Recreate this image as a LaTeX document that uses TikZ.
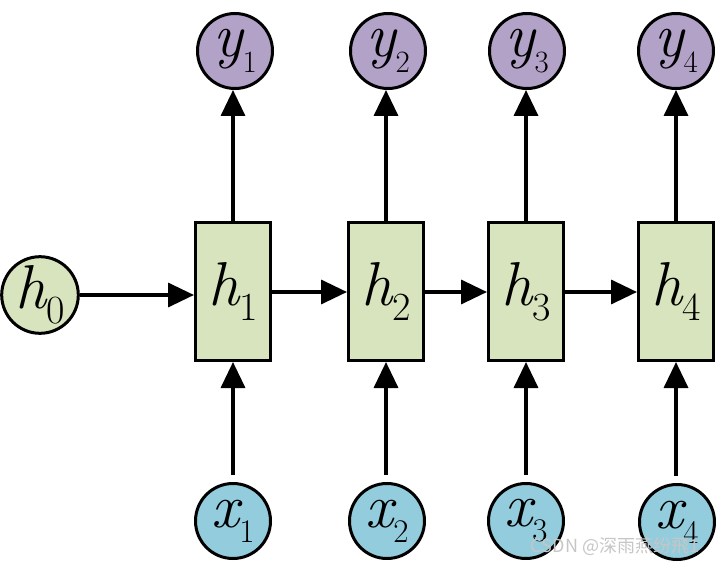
\documentclass[tikz,border=0pt]{standalone}
\usepackage{fontspec}
\newfontfamily\cjk{Noto Sans CJK SC}
\usetikzlibrary{arrows.meta}
\definecolor{hgreen}{HTML}{D7E4BD}
\definecolor{ypurple}{HTML}{B3A2C7}
\definecolor{xcyan}{HTML}{93CDDD}
\newcommand{\hlab}[1]{{\fontsize{62}{62}\selectfont\itshape h}\raisebox{-15pt}{\fontsize{40}{40}\selectfont #1}}
\newcommand{\ylab}[1]{{\fontsize{62}{62}\selectfont\itshape y}\raisebox{-16pt}{\fontsize{31}{31}\selectfont #1}}
\newcommand{\xlab}[1]{{\fontsize{62}{62}\selectfont\itshape x}\raisebox{-15pt}{\fontsize{33}{33}\selectfont #1}}
\tikzset{
  hbox/.style={draw=black, line width=3pt, fill=hgreen, minimum width=75pt, minimum height=138pt, inner sep=0pt},
  ycirc/.style={circle, draw=black, line width=3pt, fill=ypurple, minimum size=75pt, inner sep=0pt},
  xcirc/.style={circle, draw=black, line width=3pt, fill=xcyan, minimum size=75pt, inner sep=0pt},
  h0circ/.style={circle, draw=black, line width=3pt, fill=hgreen, minimum size=75pt, inner sep=0pt},
  conn/.style={line width=3.5pt, -{Triangle[length=26pt,width=24pt]}},
  wmtext/.style={text=gray!45, inner sep=0pt, font=\cjk\fontsize{18}{18}\selectfont},
}
\begin{document}
\begin{tikzpicture}[x=1pt,y=-1pt]
\useasboundingbox (0,0) rectangle (720,567);
% boxes
\node[hbox] (h1) at (233,291.5) {\hlab{1}};
\node[hbox] (h2) at (386,291.5) {\hlab{2}};
\node[hbox] (h3) at (526,291.5) {\hlab{3}};
\node[hbox] (h4) at (676,291.5) {\hlab{4}};
\node[h0circ] (h0) at (40,295) {\hlab{0}};
% outputs
\node[ycirc] (y1) at (235,51) {\ylab{1}};
\node[ycirc] (y2) at (388,51) {\ylab{2}};
\node[ycirc] (y3) at (527,51) {\ylab{3}};
\node[ycirc] (y4) at (676,51) {\ylab{4}};
% inputs
\node[xcirc] (x1) at (233,521) {\xlab{1}};
\node[xcirc] (x2) at (387,521) {\xlab{2}};
\node[xcirc] (x3) at (526,521) {\xlab{3}};
\node[xcirc] (x4) at (677,522) {\xlab{4}};
% connectors
\draw[conn] (h0.east) -- (h0.east -| h1.west);
\draw[conn] (h1.east |- 0,292) -- (h2.west |- 0,292);
\draw[conn] (h2.east |- 0,292) -- (h3.west |- 0,292);
\draw[conn] (h3.east |- 0,292) -- (h4.west |- 0,292);
\foreach \i in {1,2,3,4}{
  \draw[conn] (h\i.north) -- (h\i.north |- y\i.south);
  \draw[conn, shorten <=7pt] (x\i.north -| h\i.south) -- (h\i.south);
}
\node[wmtext] (wm) at (615,546) {CSDN @深雨燕纷飛1};
\end{tikzpicture}
\end{document}
